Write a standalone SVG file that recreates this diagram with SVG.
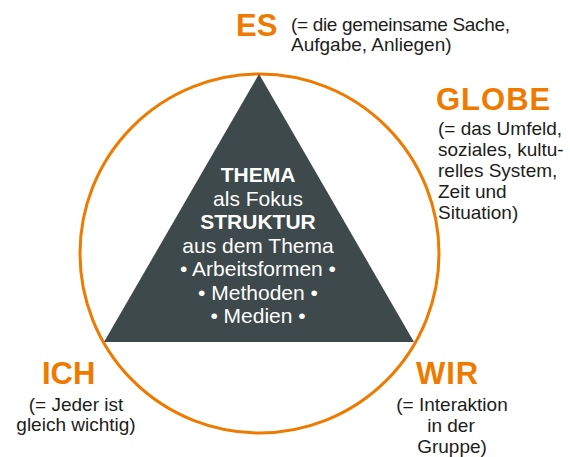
<svg xmlns="http://www.w3.org/2000/svg" width="570" height="457" viewBox="0 0 570 457">
<style>
.lbl{font-family:"Liberation Sans",Arial,sans-serif;font-weight:bold;font-size:31px;fill:#EF7A00}
.sub{font-family:"Liberation Sans",Arial,sans-serif;font-size:19px;fill:#1d1d1b}
.in{font-family:"Liberation Sans",Arial,sans-serif;font-size:21px;fill:#ffffff;text-anchor:middle}
.b{font-weight:bold}
</style>
<rect width="570" height="457" fill="#ffffff"/>
<g id="circle">
<circle cx="259.5" cy="253.5" r="179.5" fill="none" stroke="#EF7A00" stroke-width="3"/>
</g>
<g id="triangle">
<polygon points="259,74 104,342 414,342" fill="#3D494A"/>
<text class="in b" x="258" y="182">THEMA</text>
<text class="in" x="258" y="205.5">als Fokus</text>
<text class="in b" x="258" y="229">STRUKTUR</text>
<text class="in" x="258" y="252.5">aus dem Thema</text>
<text class="in" x="258" y="276">• Arbeitsformen •</text>
<text class="in" x="258" y="299.5">• Methoden •</text>
<text class="in" x="258" y="323">• Medien •</text>
</g>
<g id="es">
<text class="lbl" x="236" y="36">ES</text>
<text class="sub" x="291" y="31" textLength="219">(= die gemeinsame Sache,</text>
<text class="sub" x="291" y="51">Aufgabe, Anliegen)</text>
</g>
<g id="globe">
<text class="lbl" x="436" y="110" letter-spacing="1">GLOBE</text>
<text class="sub" x="438" y="135">(= das Umfeld,</text>
<text class="sub" x="438" y="156">soziales, kultu-</text>
<text class="sub" x="438" y="177">relles System,</text>
<text class="sub" x="438" y="198">Zeit und</text>
<text class="sub" x="438" y="219">Situation)</text>
</g>
<g id="ich">
<text class="lbl" x="42" y="384">ICH</text>
<text class="sub" x="76" y="411" text-anchor="middle">(= Jeder ist</text>
<text class="sub" x="76" y="431" text-anchor="middle">gleich wichtig)</text>
</g>
<g id="wir">
<text class="lbl" x="416" y="384" letter-spacing="1">WIR</text>
<text class="sub" x="452" y="411" text-anchor="middle">(= Interaktion</text>
<text class="sub" x="451" y="432" text-anchor="middle">in der</text>
<text class="sub" x="452" y="453" text-anchor="middle">Gruppe)</text>
</g>
</svg>
